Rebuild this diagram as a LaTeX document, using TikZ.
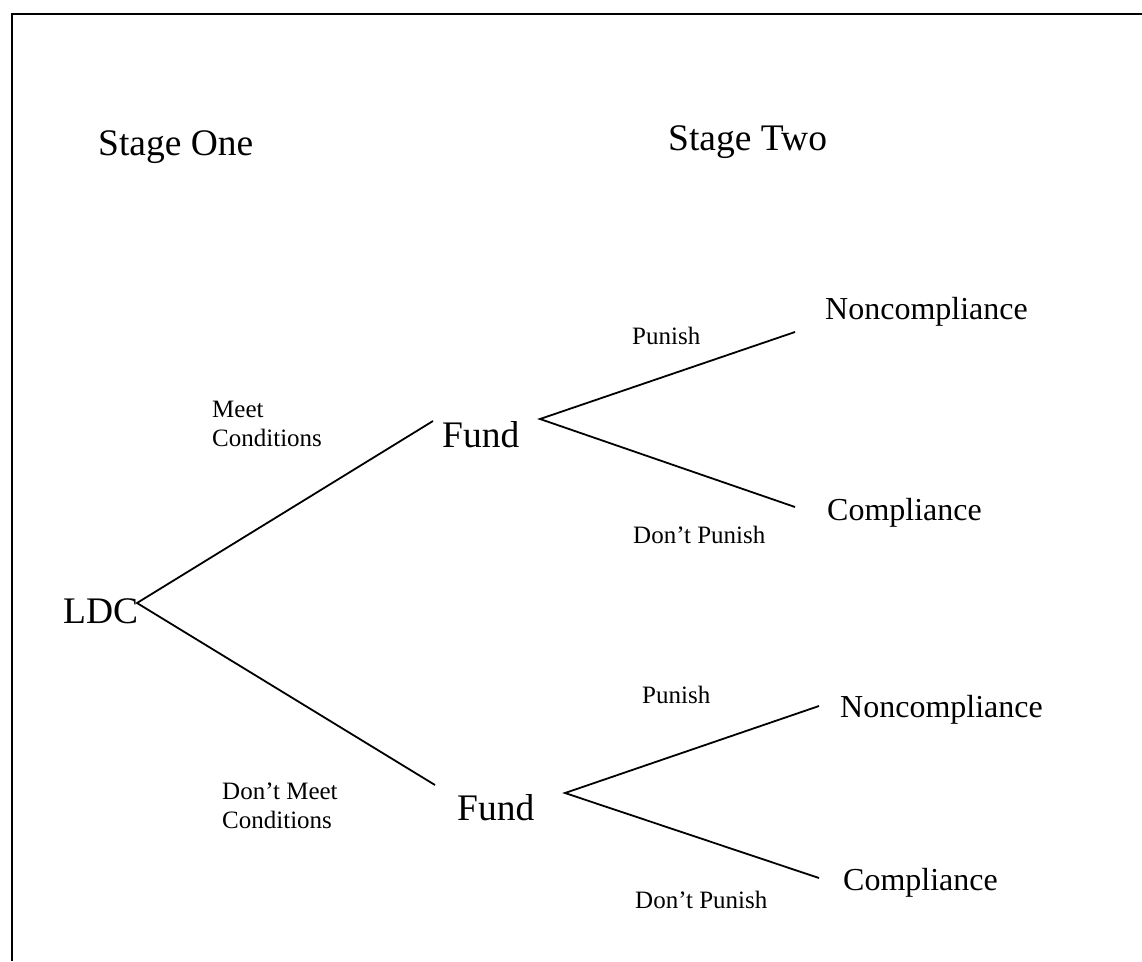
\documentclass[tikz,border=0pt]{standalone}
\usepackage{fontspec}
\setmainfont{Liberation Serif}
\tikzset{
  big/.style={inner sep=0pt, anchor=base west, font=\fontsize{37.5}{40}\selectfont},
  outcome/.style={inner sep=0pt, anchor=base west, font=\fontsize{32}{36}\selectfont},
  lbl/.style={inner sep=0pt, anchor=base west, font=\fontsize{25}{29}\selectfont},
  lbltwo/.style={inner sep=0pt, anchor=base west, align=left, font=\fontsize{25}{29}\selectfont},
  branch/.style={line width=1.8pt},
  frame/.style={line width=2.6pt}
}
\begin{document}
\begin{tikzpicture}[x=1pt,y=-1pt]
\useasboundingbox (0,0) rectangle (1142,961);
\draw[frame] (1142,14) -- (12,14) -- (12,961);

\node[big] (s1) at (98,155) {Stage One};
\node[big] (s2) at (668,150) {Stage Two};
\node[big] (ldc) at (63,623) {LDC};
\node[big] (fund1) at (442,447) {Fund};
\node[big] (fund2) at (457,820) {Fund};

\node[outcome] (non1) at (825,319) {Noncompliance};
\node[outcome] (comp1) at (827,520) {Compliance};
\node[outcome] (non2) at (840,717) {Noncompliance};
\node[outcome] (comp2) at (843,890) {Compliance};

\node[lbl] (p1) at (632,344) {Punish};
\node[lbl] (dp1) at (633,543) {Don’t Punish};
\node[lbl] (p2) at (642,703) {Punish};
\node[lbl] (dp2) at (635,908) {Don’t Punish};
\node[lbltwo] (mc) at (212,446) {Meet\\Conditions};
\node[lbltwo] (dmc) at (222,828) {Don’t Meet\\Conditions};

\coordinate (ldcR) at (137,603);
\coordinate (f1L) at (433,421);
\coordinate (f2L) at (435,785);
\coordinate (f1R) at (540,419);
\coordinate (n1L) at (795,332);
\coordinate (c1L) at (795,507);
\coordinate (f2R) at (565,793);
\coordinate (n2L) at (819,706);
\coordinate (c2L) at (819,878);

\draw[branch] (f1L) -- (ldcR) -- (f2L);
\draw[branch] (n1L) -- (f1R) -- (c1L);
\draw[branch] (n2L) -- (f2R) -- (c2L);
\end{tikzpicture}
\end{document}
